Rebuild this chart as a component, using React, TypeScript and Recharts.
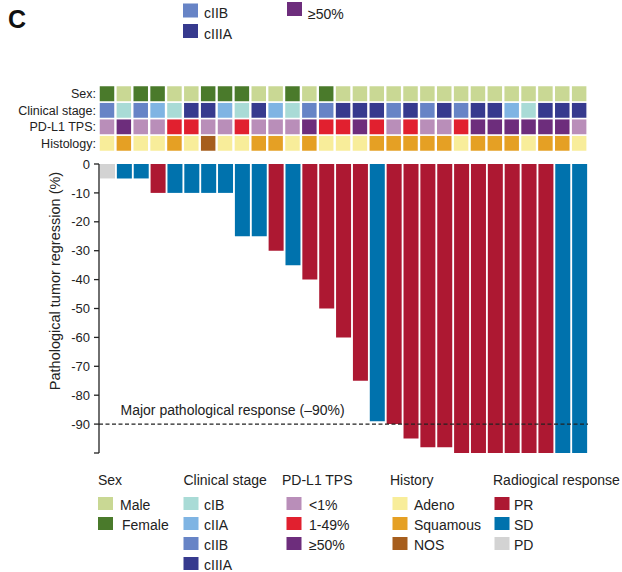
import { BarChart, Bar, XAxis, YAxis, Cell, ReferenceLine, Label } from 'recharts'

const patients = ['1', '2', '3', '4', '5', '6', '7', '8', '9', '10', '11', '12', '13', '14', '15',
  '16', '17', '18', '19', '20', '21', '22', '23', '24', '25', '26', '27', '28', '29']

const regression = [-5, -5, -5, -10, -10, -10, -10, -10, -25, -25, -30, -35, -40, -50, -60,
  -75, -89, -90, -95, -98, -98, -100, -100, -100, -100, -100, -100, -100, -100]

const response = ['PD', 'SD', 'SD', 'PR', 'SD', 'SD', 'SD', 'SD', 'SD', 'SD', 'PR', 'SD', 'PR', 'PR', 'PR',
  'PR', 'SD', 'PR', 'PR', 'PR', 'PR', 'PR', 'PR', 'PR', 'PR', 'PR', 'PR', 'SD', 'SD']

const sex = ['Female', 'Male', 'Female', 'Female', 'Male', 'Male', 'Female', 'Female', 'Female', 'Male',
  'Male', 'Female', 'Male', 'Female', 'Male', 'Male', 'Male', 'Male', 'Male', 'Male', 'Male', 'Male',
  'Male', 'Male', 'Male', 'Male', 'Male', 'Male', 'Male']

const stage = ['cIIB', 'cIB', 'cIIB', 'cIIA', 'cIB', 'cIIIA', 'cIIIA', 'cIIA', 'cIB', 'cIIIA', 'cIIA',
  'cIB', 'cIIB', 'cIIB', 'cIIIA', 'cIIIA', 'cIIIA', 'cIIB', 'cIIIA', 'cIIB', 'cIIIA', 'cIIB', 'cIIIA',
  'cIIIA', 'cIIA', 'cIB', 'cIIIA', 'cIIIA', 'cIIIA']

const pdl1 = ['<1%', '≥50%', '<1%', '<1%', '1-49%', '1-49%', '<1%', '<1%', '1-49%', '<1%', '<1%', '<1%',
  '≥50%', '1-49%', '1-49%', '≥50%', '1-49%', '<1%', '1-49%', '<1%', '<1%', '1-49%', '≥50%', '≥50%',
  '≥50%', '≥50%', '≥50%', '≥50%', '<1%']

const histology = ['Adeno', 'Squamous', 'Adeno', 'Adeno', 'Squamous', 'Adeno', 'NOS', 'Adeno', 'Adeno',
  'Squamous', 'Squamous', 'Adeno', 'Squamous', 'Adeno', 'Adeno', 'Adeno', 'Squamous', 'Squamous',
  'Squamous', 'Squamous', 'Squamous', 'Adeno', 'Squamous', 'Squamous', 'Squamous', 'Adeno', 'Squamous',
  'Squamous', 'Adeno']

const yTicks = [0, -10, -20, -30, -40, -50, -60, -70, -80, -90, -100]
const trackTicks = [0.5, 1.5, 2.5, 3.5]
const trackLabels = ['Histology:', 'PD-L1 TPS:', 'Clinical stage:', 'Sex:']

const colors: Record<string, string> = {
  Male: '#c9d894',
  Female: '#4a7a2b',
  cIB: '#a9dbd6',
  cIIA: '#7fb4e3',
  cIIB: '#6784c6',
  cIIIA: '#363a8e',
  '<1%': '#b98eb9',
  '1-49%': '#e1202f',
  '≥50%': '#6d2d7c',
  Adeno: '#f8ed9a',
  Squamous: '#e5a024',
  NOS: '#a65e1d',
  PR: '#ad1832',
  SD: '#0072ad',
  PD: '#d3d3d3',
}

const legendGroups = [
  { title: 'Sex', items: ['Male', 'Female'] },
  { title: 'Clinical stage', items: ['cIB', 'cIIA', 'cIIB', 'cIIIA'] },
  { title: 'PD-L1 TPS', items: ['<1%', '1-49%', '≥50%'] },
  { title: 'History', items: ['Adeno', 'Squamous', 'NOS'] },
  { title: 'Radiogical response', items: ['PR', 'SD', 'PD'] },
]
const legendTitleX = [98, 183.5, 282, 390, 493]
const legendSwatchX = [98, 183.5, 286.5, 392.5, 494.5]
const legendTextX = [120, 204, 309, 414, 514]

const barData = patients.map((id, i) => ({ id, value: regression[i] }))
const trackData = patients.map((id) => ({ id, histology: 1, pdl1: 1, stage: 1, sex: 1 }))

const font = 'Arial, "Liberation Sans", sans-serif'
const ink = '#222'

function Legends() {
  return (
    <svg width={622} height={572} style={{ position: 'absolute', left: 0, top: 0 }}>
      <text x={8} y={28} fontSize={25} fontWeight="bold" fill="#111">C</text>
      {/* tail of the legend from the panel above */}
      <rect x={183} y={3.5} width={15} height={14} fill={colors.cIIB} />
      <text x={204} y={18} fontSize={14} fill={ink}>cIIB</text>
      <rect x={183} y={24} width={15} height={14} fill={colors.cIIIA} />
      <text x={204} y={38.5} fontSize={14} fill={ink}>cIIIA</text>
      <rect x={287} y={2} width={15} height={14} fill={colors['≥50%']} />
      <text x={308} y={19} fontSize={14} fill={ink}>≥50%</text>

      {legendGroups.map((g, gi) => (
        <g key={g.title}>
          <text x={legendTitleX[gi]} y={485} fontSize={14} fill={ink}>{g.title}</text>
          {g.items.map((it, ii) => (
            <g key={it}>
              <rect x={legendSwatchX[gi]} y={497 + ii * 20} width={15} height={13} fill={colors[it]} />
              <text x={legendTextX[gi] + (gi === 0 && ii === 1 ? 2 : 0)} y={509.5 + ii * 20} fontSize={14} fill={ink}>{it}</text>
            </g>
          ))}
        </g>
      ))}
    </svg>
  )
}

export default function App() {
  return (
    <div style={{ position: 'absolute', left: 0, top: 0, width: 622, height: 572, background: '#fff', fontFamily: font }}>
      <Legends />
      <div style={{ position: 'absolute', left: 0, top: 0 }}>
        <BarChart width={622} height={155} data={trackData} margin={{ top: 85.5, right: 34, bottom: 3.5, left: 0 }}>
          <XAxis dataKey="id" type="category" hide />
          <YAxis
            type="number"
            domain={[0, 4]}
            ticks={trackTicks}
            interval={0}
            width={99}
            axisLine={false}
            tickLine={false}
            tickSize={0}
            tickMargin={3}
            tick={{ fontSize: 12.5, fill: ink }}
            tickFormatter={(v) => trackLabels[Math.floor(Number(v))]}
          />
          <Bar dataKey="histology" stackId="t" barSize={16} stroke="#fff" strokeWidth={1.5} isAnimationActive={false}>
            {histology.map((h, i) => <Cell key={i} fill={colors[h]} />)}
          </Bar>
          <Bar dataKey="pdl1" stackId="t" barSize={16} stroke="#fff" strokeWidth={1.5} isAnimationActive={false}>
            {pdl1.map((p, i) => <Cell key={i} fill={colors[p]} />)}
          </Bar>
          <Bar dataKey="stage" stackId="t" barSize={16} stroke="#fff" strokeWidth={1.5} isAnimationActive={false}>
            {stage.map((s, i) => <Cell key={i} fill={colors[s]} />)}
          </Bar>
          <Bar dataKey="sex" stackId="t" barSize={16} stroke="#fff" strokeWidth={1.5} isAnimationActive={false}>
            {sex.map((s, i) => <Cell key={i} fill={colors[s]} />)}
          </Bar>
        </BarChart>
      </div>
      <div style={{ position: 'absolute', left: 0, top: 155 }}>
        <BarChart width={622} height={305} data={barData} margin={{ top: 9, right: 34, bottom: 7, left: 0 }}>
          <XAxis dataKey="id" type="category" hide />
          <YAxis
            type="number"
            domain={[-100, 0]}
            ticks={yTicks}
            interval={0}
            width={99}
            tickSize={5}
            tickMargin={4}
            axisLine={{ stroke: ink, strokeWidth: 1.3 }}
            tickLine={{ stroke: ink, strokeWidth: 1.3 }}
            tick={{ fontSize: 13, fill: ink }}
            tickFormatter={(v) => (v === -100 ? '' : String(v))}
          >
            <Label
              value="Pathological tumor regression (%)"
              angle={-90}
              position="center"
              dx={5.5}
              dy={-27.5}
              style={{ fontSize: 14.5, fill: ink }}
            />
          </YAxis>
          <Bar dataKey="value" barSize={15} isAnimationActive={false}>
            {response.map((r, i) => <Cell key={i} fill={colors[r]} />)}
          </Bar>
          <ReferenceLine y={-90} stroke={ink} strokeWidth={1.3} strokeDasharray="4 2.5">
            <Label
              value="Major pathological response (–90%)"
              position="insideLeft"
              offset={21.5}
              dy={-14}
              style={{ fontSize: 14, fill: ink }}
            />
          </ReferenceLine>
        </BarChart>
      </div>
    </div>
  )
}
